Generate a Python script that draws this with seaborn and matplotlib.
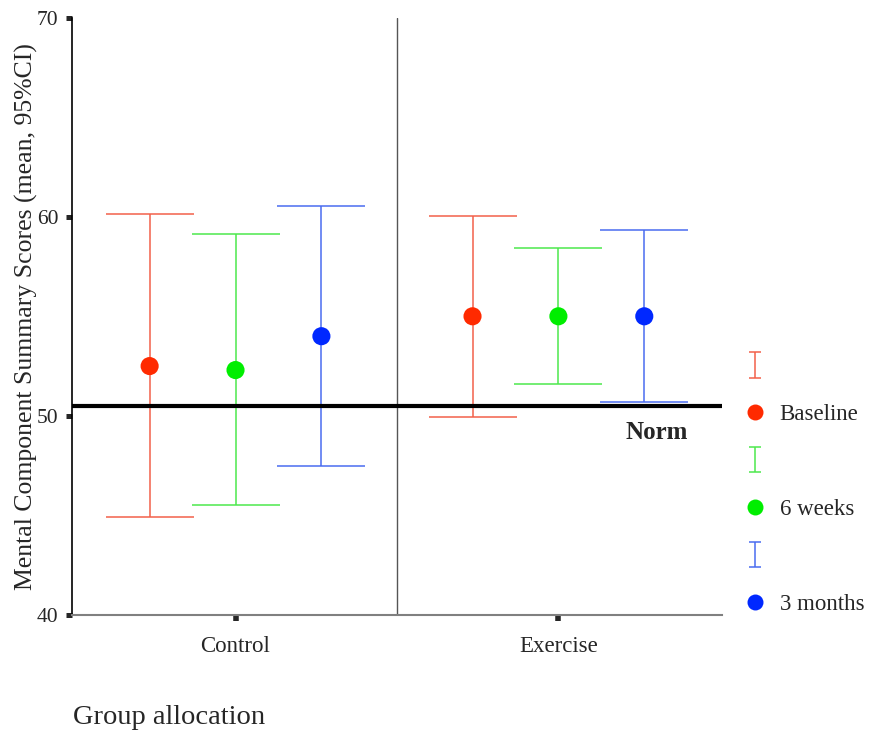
import numpy as np
import pandas as pd
import seaborn as sns
import matplotlib
matplotlib.use("Agg")
import matplotlib.pyplot as plt
from matplotlib.lines import Line2D
from matplotlib.legend_handler import HandlerErrorbar

# data (mean and 95% CI)
groups = ["Control", "Exercise"]
timepoints = ["Baseline", "6 weeks", "3 months"]
mean_control = [52.5, 52.3, 54.0]
mean_exercise = [55.0, 55.0, 55.0]
lower_control = [44.9, 45.5, 47.5]
lower_exercise = [49.95, 51.6, 50.7]
upper_control = [60.15, 59.15, 60.55]
upper_exercise = [60.05, 58.45, 59.35]
norm_value = 50.5

point_colors = ["#ff2a00", "#00ee00", "#0028ff"]
bar_colors = ["#f2604a", "#4de84d", "#4a6cf0"]

# long table for seaborn
rows = []
for g, (m, lo, hi) in enumerate([(mean_control, lower_control, upper_control),
                                  (mean_exercise, lower_exercise, upper_exercise)]):
    for t, tp in enumerate(timepoints):
        rows.append({"group": groups[g], "gi": g, "time": tp, "ti": t,
                     "mean": m[t], "lower": lo[t], "upper": hi[t]})
df = pd.DataFrame(rows)
offsets = [-0.266, 0.0, 0.266]
df["x"] = df["gi"] + df["ti"].map(lambda t: offsets[t])

sns.set_style("ticks")
plt.rcParams["font.family"] = ["Liberation Serif", "DejaVu Serif"]

fig = plt.figure(figsize=(8.72, 7.33), dpi=100)
ax = fig.add_axes([0.0831, 0.161, 0.745, 0.815])

# error bars (matplotlib caps are 2*capsize wide)
for t, tp in enumerate(timepoints):
    sub = df[df["time"] == tp]
    ax.errorbar(sub["x"], sub["mean"],
                yerr=[sub["mean"] - sub["lower"], sub["upper"] - sub["mean"]],
                fmt="none", ecolor=bar_colors[t], elinewidth=1.1,
                capsize=31.5, capthick=1.1, zorder=2)

# norm line
ax.axhline(norm_value, color="black", lw=3, zorder=3)
ax.text(1.40, 49.15, "Norm", ha="right", va="center", fontsize=18,
        fontweight="bold")

# group divider
ax.axvline(0.5, color="#555555", lw=1, zorder=1)

# points
sns.scatterplot(data=df, x="x", y="mean", hue="time", hue_order=timepoints,
                palette=point_colors, s=170, linewidth=0, legend=False,
                ax=ax, zorder=4)

ax.set_xlim(-0.505, 1.507)
ax.set_ylim(40, 70)
ax.set_xticks([0, 1])
ax.set_xticklabels(groups)
ax.set_yticks([40, 50, 60, 70])
ax.set_xlabel("")
ax.set_ylabel("Mental Component Summary Scores (mean, 95%CI)", fontsize=18.5,
              labelpad=-1)
ax.tick_params(axis="y", direction="out", length=4.3, width=3.6,
               labelsize=15.5, pad=6)
ax.tick_params(axis="x", direction="out", length=4, width=4,
               labelsize=16.5, pad=11)
sns.despine(ax=ax)
ax.spines["left"].set_linewidth(1.2)
ax.spines["left"].set_color("black")
ax.spines["bottom"].set_linewidth(1.5)
ax.spines["bottom"].set_color("#808080")

fig.text(73 / 872, 1 - 718 / 733, "Group allocation", ha="left", va="center",
         fontsize=20.5)

# legend: small error bar icon above each marker
handles = []
labels = []
for t, tp in enumerate(timepoints):
    eb = ax.errorbar([np.nan], [np.nan], yerr=[[1], [1]], fmt="none",
                     ecolor=bar_colors[t], elinewidth=1.1, capsize=4.5,
                     capthick=1.1)
    handles.append(eb)
    labels.append("")
    handles.append(Line2D([], [], marker="o", ls="none", markersize=11.5,
                          markerfacecolor=point_colors[t], markeredgewidth=0))
    labels.append(tp)

fig.legend(handles, labels, loc="upper left",
           bbox_to_anchor=(744 / 872, 1 - 357 / 733), frameon=False,
           fontsize=16.5, handlelength=1.0, handletextpad=0.55,
           labelspacing=1.15, borderpad=0, borderaxespad=0,
           handler_map={type(handles[0]): HandlerErrorbar(yerr_size=0.55)})

fig.savefig("out.png", dpi=100)
